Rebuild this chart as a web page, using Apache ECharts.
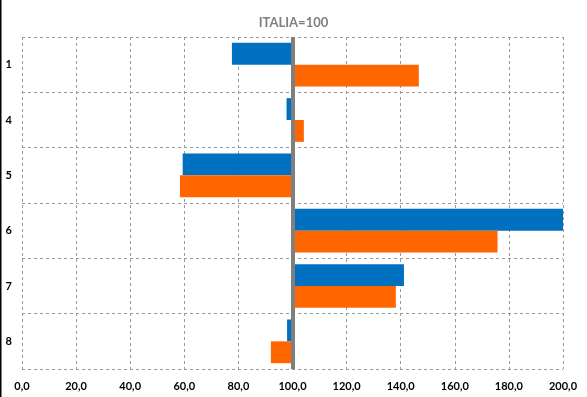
<!DOCTYPE html>
<html>
<head>
<meta charset="utf-8">
<script src="https://cdn.jsdelivr.net/npm/echarts@6/dist/echarts.min.js"></script>
<style>html,body{margin:0;padding:0;background:#fff;}#c{width:587px;height:397px;}</style>
</head>
<body>
<div id="c"></div>
<script>
var categories = ['1', '4', '5', '6', '7', '8'];
var blueValues = [77.6, 97.8, 59.4, 200.0, 141.2, 98.0];
var orangeValues = [146.7, 104.2, 58.4, 175.8, 138.2, 92.0];
var baseline = 100;
var xTicks = [0, 20, 40, 60, 80, 100, 120, 140, 160, 180, 200];

function baseOf(arr) { return arr.map(function (v) { return Math.min(v, baseline); }); }
function lenOf(arr) { return arr.map(function (v) { return Math.abs(v - baseline); }); }

var chart = echarts.init(document.getElementById('c'), null, { renderer: 'canvas' });
var fontFam = 'Lato, "Liberation Sans", sans-serif';
chart.setOption({
  animation: false,
  backgroundColor: '#ffffff',
  title: {
    text: 'ITALIA=100', left: 'center', top: 11,
    textStyle: { color: '#7f7f7f', fontSize: 13, fontWeight: 'bold', fontFamily: fontFam }
  },
  graphic: [{ type: 'rect', shape: { x: 0, y: 0, width: 1.5, height: 397 }, style: { fill: '#000' } }],
  grid: { left: 22, right: 24, top: 37, bottom: 28, containLabel: false },
  xAxis: {
    type: 'value', min: xTicks[0], max: xTicks[xTicks.length - 1], interval: 20,
    axisLine: { show: false }, axisTick: { show: false },
    axisLabel: {
      margin: 12, color: '#000', fontSize: 11, fontWeight: 'bold', fontFamily: fontFam,
      formatter: function (v) { return v.toFixed(1).replace('.', ','); }
    },
    splitLine: { show: true, lineStyle: { color: '#999999', type: [3, 3], width: 1 } }
  },
  yAxis: {
    type: 'category', data: categories, inverse: true,
    axisLine: { show: false }, axisTick: { show: false },
    axisLabel: { margin: 10, color: '#000', fontSize: 11, fontWeight: 'bold', fontFamily: fontFam },
    splitLine: { show: true, lineStyle: { color: '#999999', type: [3, 3], width: 1 } }
  },
  series: [
    { name: 'bb', type: 'bar', stack: 'blue', data: baseOf(blueValues), itemStyle: { color: 'transparent' },
      barGap: '0%', barCategoryGap: '21%', silent: true },
    { name: 'blue', type: 'bar', stack: 'blue', data: lenOf(blueValues), itemStyle: { color: '#0070C0' } },
    { name: 'ob', type: 'bar', stack: 'orange', data: baseOf(orangeValues), itemStyle: { color: 'transparent' }, silent: true },
    { name: 'orange', type: 'bar', stack: 'orange', data: lenOf(orangeValues), itemStyle: { color: '#FF6600' },
      markLine: {
        silent: true, symbol: ['none', 'none'], label: { show: false },
        lineStyle: { color: '#7f7f7f', width: 4, type: 'solid' },
        data: [{ xAxis: baseline }]
      }
    }
  ]
});
</script>
</body>
</html>
